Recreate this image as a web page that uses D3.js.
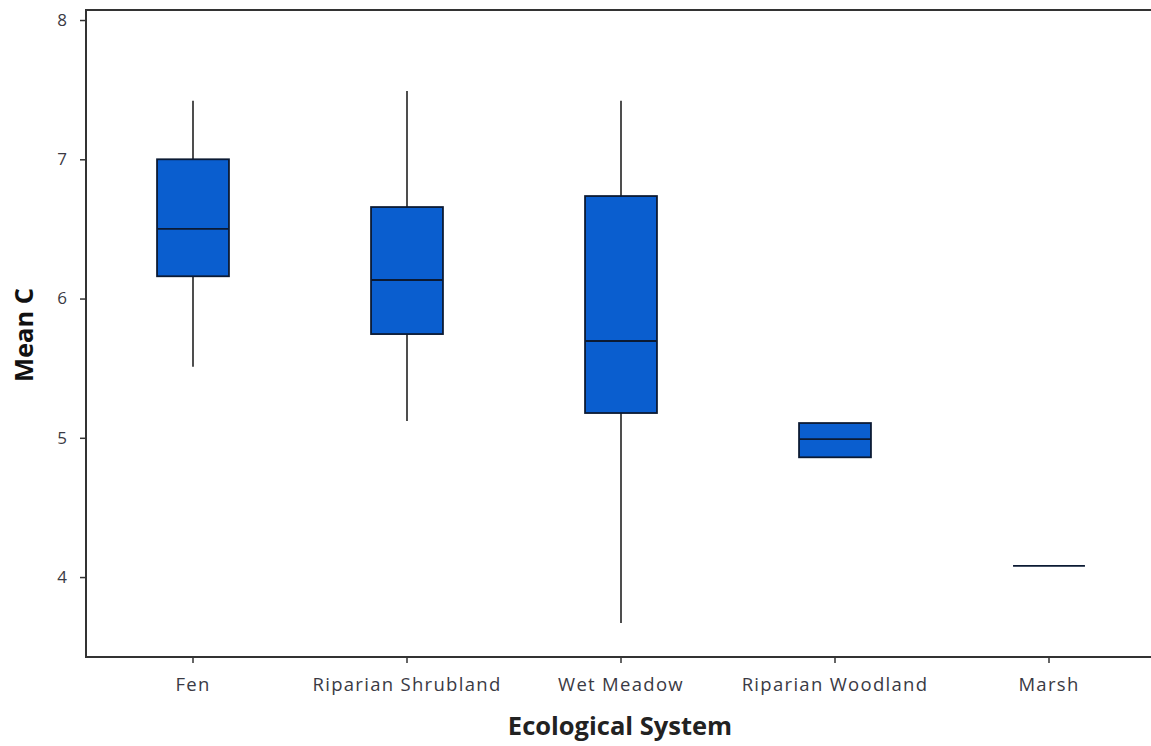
<!DOCTYPE html>
<html><head><meta charset="utf-8">
<script src="https://cdn.jsdelivr.net/npm/d3@7"></script>
<style>body{margin:0;background:#fff;} svg{display:block;}</style>
</head><body>
<svg id="c" width="1151" height="746"></svg>
<script>
const categories = ["Fen","Riparian Shrubland","Wet Meadow","Riparian Woodland","Marsh"];
const whiskerLow  = [5.51, 5.12, 3.67, 4.86, 4.08];
const q1          = [6.16, 5.745, 5.178, 4.86, 4.08];
const median      = [6.50, 6.133, 5.695, 4.99, 4.08];
const q3          = [7.00, 6.657, 6.736, 5.106, 4.08];
const whiskerHigh = [7.42, 7.49, 7.42, 5.106, 4.08];
const yTicks = [4,5,6,7,8];

(function(){
const svg = d3.select("#c");
const mLeft = 86, mTop = 10, mBottom = 657;
const x = d3.scaleBand().domain(categories).range([mLeft, mLeft + 5*214]).padding(0);
const y = d3.scaleLinear().domain([3.426, 8.072]).range([mBottom, mTop]);
const font = "'Open Sans', sans-serif";
const boxW = x.bandwidth()*0.336;

const data = categories.map((c,i)=>({c, lo:whiskerLow[i], q1:q1[i], med:median[i], q3:q3[i], hi:whiskerHigh[i]}));

const g = svg.append("g");
data.forEach(d=>{
  const cx = x(d.c)+x.bandwidth()/2;
  if (d.hi > d.q3) g.append("line").attr("x1",cx).attr("x2",cx).attr("y1",y(d.hi)).attr("y2",y(d.q3)).attr("stroke","#222").attr("stroke-width",1.6);
  if (d.lo < d.q1) g.append("line").attr("x1",cx).attr("x2",cx).attr("y1",y(d.q1)).attr("y2",y(d.lo)).attr("stroke","#222").attr("stroke-width",1.6);
  if (d.q3 > d.q1) g.append("rect").attr("x",cx-boxW/2).attr("width",boxW).attr("y",y(d.q3)).attr("height",y(d.q1)-y(d.q3))
     .attr("fill","#0a5ecf").attr("stroke","#0b1a33").attr("stroke-width",1.8);
  g.append("line").attr("x1",cx-boxW/2).attr("x2",cx+boxW/2).attr("y1",y(d.med)).attr("y2",y(d.med)).attr("stroke","#0b1a33").attr("stroke-width",1.8);
});

const yAxis = svg.append("g").attr("transform",`translate(${mLeft},0)`)
  .call(d3.axisLeft(y).tickValues(yTicks).tickFormat(d3.format("d")).tickSize(6).tickPadding(13));
yAxis.select(".domain").remove();
yAxis.selectAll(".tick line").attr("stroke","#333").attr("stroke-width",1.5);
yAxis.selectAll("text").attr("font-family",font).attr("font-size",17).attr("fill","#3a3a44");

const xAxis = svg.append("g").attr("transform",`translate(0,${mBottom})`)
  .call(d3.axisBottom(x).tickSize(6).tickPadding(12));
xAxis.select(".domain").remove();
xAxis.selectAll(".tick line").attr("stroke","#333").attr("stroke-width",1.5);
xAxis.selectAll("text").attr("font-family",font).attr("font-size",18.5).attr("letter-spacing",1.3)
  .attr("y",34).attr("dy",0).attr("fill","#3a3a44");

svg.append("path").attr("d",`M1151,${mTop}H${mLeft}V${mBottom}H1151`).attr("fill","none").attr("stroke","#333").attr("stroke-width",2);

svg.append("text").attr("x",620).attr("y",735).attr("text-anchor","middle").attr("font-family",font)
  .attr("font-weight","bold").attr("font-size",25.5).attr("fill","#222").text("Ecological System");
svg.append("text").attr("transform","translate(33,335) rotate(-90)").attr("text-anchor","middle").attr("font-family",font)
  .attr("font-weight","bold").attr("font-size",25.5).attr("fill","#111").text("Mean C");
})();
</script>
</body></html>
